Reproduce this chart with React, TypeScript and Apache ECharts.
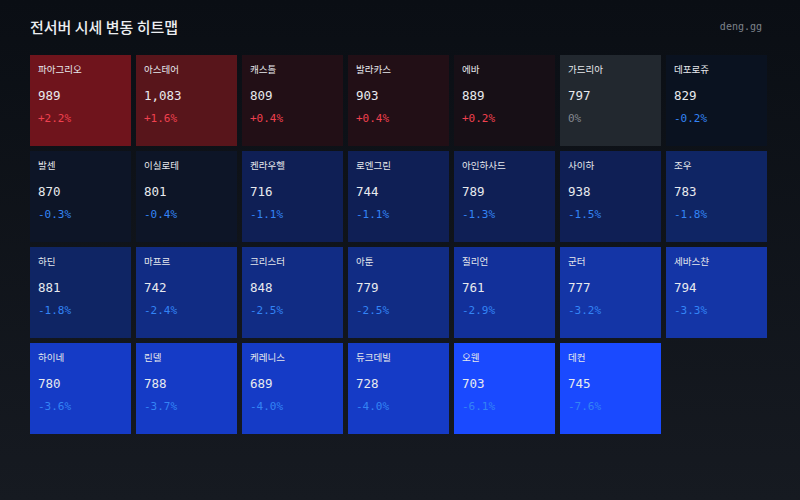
import * as echarts from "echarts";
import { useEffect, useRef } from "react";

const servers = [
    "파아그리오", "아스테어", "캐스톨", "발라카스", "에바", "가드리아", "데포로쥬",
    "발센", "이실로테", "켄라우헬", "로엔그린", "아인하사드", "사이하", "조우",
    "하딘", "마프르", "크리스터", "아툰", "질리언", "군터", "세바스챤",
    "하이네", "린델", "케레니스", "듀크데빌", "오웬", "데컨",
];
const prices = [
    989, 1083, 809, 903, 889, 797, 829,
    870, 801, 716, 744, 789, 938, 783,
    881, 742, 848, 779, 761, 777, 794,
    780, 788, 689, 728, 703, 745,
];
const changes = [
    2.2, 1.6, 0.4, 0.4, 0.2, 0, -0.2,
    -0.3, -0.4, -1.1, -1.1, -1.3, -1.5, -1.8,
    -1.8, -2.4, -2.5, -2.5, -2.9, -3.2, -3.3,
    -3.6, -3.7, -4.0, -4.0, -6.1, -7.6,
];
const columns = ["0", "1", "2", "3", "4", "5", "6"];
const rows = ["0", "1", "2", "3"];

const MONO = "'DejaVu Sans Mono', monospace";
const KR = "'Noto Sans CJK KR', sans-serif";

const formatChange = (v: number) => {
    if (v === 0) return "0%";
    return (v > 0 ? "+" : "-") + Math.abs(v).toFixed(1) + "%";
};

const changeColor = (v: number) => {
    if (v > 0) return "#f0414f";
    if (v < 0) return "#3384f5";
    return "#858990";
};

const App = () => {
    const node = useRef<HTMLDivElement>(null);

    useEffect(() => {
        document.body.style.margin = "0";
        const chart = echarts.init(node.current, null, { renderer: "svg" });
        chart.setOption({
            animation: false,
            backgroundColor: {
                type: "linear",
                x: 0,
                y: 0,
                x2: 0,
                y2: 1,
                colorStops: [
                    { offset: 0, color: "#0a0e14" },
                    { offset: 1, color: "#161a21" },
                ],
            },
            title: [
                {
                    text: "전서버 시세 변동 히트맵",
                    left: 30,
                    top: 19,
                    padding: 0,
                    textStyle: { color: "#eceef1", fontSize: 15, fontWeight: 500, fontFamily: KR },
                },
                {
                    text: "deng.gg",
                    right: 38,
                    top: 21,
                    padding: 0,
                    textStyle: { color: "#7d828a", fontSize: 10, fontWeight: 400, fontFamily: MONO },
                },
            ],
            grid: { left: 27.5, top: 52.5, width: 742, height: 384 },
            xAxis: { type: "category", data: columns, show: false },
            yAxis: { type: "category", data: rows, inverse: true, show: false },
            visualMap: {
                show: false,
                type: "piecewise",
                dimension: 2,
                seriesIndex: 0,
                pieces: [
                    { min: 2, color: "#6f141c" },
                    { min: 1, max: 2, color: "#58151b" },
                    { min: 0.3, max: 1, color: "#220f16" },
                    { min: 0.01, max: 0.3, color: "#170f16" },
                    { min: -0.01, max: 0.01, color: "#22282f" },
                    { min: -0.25, max: -0.01, color: "#0a1220" },
                    { min: -1, max: -0.25, color: "#0d1527" },
                    { min: -1.7, max: -1, color: "#0f1f55" },
                    { min: -2, max: -1.7, color: "#0f2564" },
                    { min: -2.7, max: -2, color: "#112c84" },
                    { min: -3, max: -2.7, color: "#12309a" },
                    { min: -3.5, max: -3, color: "#1435a6" },
                    { min: -5, max: -3.5, color: "#153bc6" },
                    { max: -5, color: "#1a4aff" },
                ],
            },
            series: [
                {
                    type: "custom",
                    silent: true,
                    clip: false,
                    encode: { x: 0, y: 1 },
                    data: servers.map((_, i) => [i % 7, Math.floor(i / 7), changes[i], prices[i], i]),
                    renderItem: (_params: any, api: any) => {
                        const [cx, cy] = api.coord([api.value(0), api.value(1)]);
                        const [bw, bh] = api.size([1, 1]);
                        const x = cx - bw / 2 + 2.5;
                        const y = cy - bh / 2 + 2.5;
                        const change = api.value(2);
                        const text = (content: string, dy: number, font: string, size: number, fill: string) => ({
                            type: "text",
                            silent: true,
                            style: {
                                x: x + 8,
                                y: y + dy,
                                text: content,
                                fill,
                                fontFamily: font,
                                fontSize: size,
                                verticalAlign: "middle",
                                align: "left",
                            },
                        });
                        return {
                            type: "group",
                            children: [
                                {
                                    type: "rect",
                                    shape: { x, y, width: bw - 5, height: bh - 5 },
                                    style: { fill: api.visual("color") },
                                },
                                text(servers[api.value(4)], 14, KR, 9.5, "#e6e8ec"),
                                text(api.value(3).toLocaleString("en-US"), 40.5, MONO, 12.5, "#e8eaee"),
                                text(formatChange(change), 63, MONO, 11, changeColor(change)),
                            ],
                        };
                    },
                },
            ],
        });
        return () => {
            chart.dispose();
        };
    }, []);

    return <div style={{ width: 800, height: 500 }} ref={node}></div>;
};

export default App;
